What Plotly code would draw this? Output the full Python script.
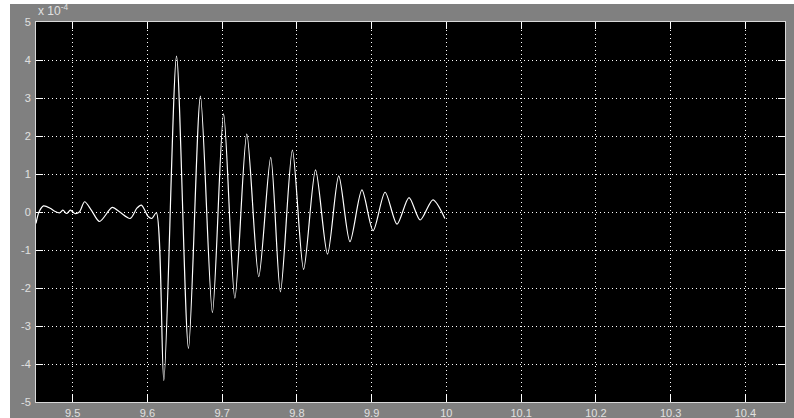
import plotly.graph_objects as go

# time (s) and signal (units of 1e-4)
t = [9.451, 9.455, 9.461, 9.470, 9.476, 9.483, 9.487, 9.492, 9.497, 9.503, 9.509,
     9.516, 9.525, 9.536, 9.553, 9.563, 9.577, 9.586, 9.592, 9.601, 9.606, 9.612,
     9.622, 9.639, 9.655, 9.671, 9.687, 9.702, 9.717, 9.733, 9.749, 9.765, 9.778,
     9.794, 9.809, 9.825, 9.841, 9.856, 9.871, 9.887, 9.902, 9.918, 9.934, 9.950,
     9.965, 9.982, 9.998]
signal = [-0.30, 0.00, 0.16, 0.10, 0.02, -0.02, 0.05, -0.04, 0.05, -0.04, 0.00,
          0.27, 0.05, -0.25, 0.12, 0.00, -0.17, 0.10, 0.18, -0.12, -0.17, -0.02,
          -4.44, 4.10, -3.59, 3.05, -2.65, 2.58, -2.27, 2.05, -1.70, 1.44, -2.10,
          1.63, -1.51, 1.11, -1.11, 0.95, -0.78, 0.58, -0.49, 0.52, -0.32, 0.38,
          -0.21, 0.32, -0.17]

x_ticks = [9.5, 9.6, 9.7, 9.8, 9.9, 10, 10.1, 10.2, 10.3, 10.4]
x_ticklabels = ["9.5", "9.6", "9.7", "9.8", "9.9", "10", "10.1", "10.2", "10.3", "10.4"]
y_ticks = [-5, -4, -3, -2, -1, 0, 1, 2, 3, 4, 5]
y_ticklabels = [str(v) for v in y_ticks]

W, H = 794, 418
L, R, T, B = 36, 9, 22, 16
pw, ph = W - L - R, H - T - B

def px(xp):
    return (xp - L) / pw

def py(yp):
    return (H - B - yp) / ph

fig = go.Figure()
fig.add_trace(go.Scatter(x=t, y=signal, mode="lines",
                         line=dict(color="white", width=1.2, shape="spline", smoothing=0.8),
                         hoverinfo="skip", showlegend=False))

font = dict(family="Liberation Sans, Arial, sans-serif", size=11, color="#e0e0e0")
axis_common = dict(showline=True, linecolor="#d8d8d8", linewidth=1, mirror="ticks",
                   ticks="inside", ticklen=7, tickcolor="#ffffff", tickwidth=1,
                   showgrid=True, gridcolor="#ffffff", gridwidth=1, griddash="1px,3px",
                   zeroline=False, tickfont=font, automargin=False)

fig.update_xaxes(range=[9.451, 10.453], tickvals=x_ticks, ticktext=x_ticklabels,
                 ticklabelstandoff=1, **axis_common)
fig.update_yaxes(range=[-5, 5], tickvals=y_ticks, ticktext=y_ticklabels,
                 ticklabelstandoff=2, **axis_common)

fig.update_layout(
    width=W, height=H,
    margin=dict(l=L, r=R, t=T, b=B, pad=0, autoexpand=False),
    paper_bgcolor="white",
    plot_bgcolor="rgba(0,0,0,0)",
    shapes=[
        dict(type="rect", xref="paper", yref="paper", layer="below",
             x0=px(10), x1=px(W + 2), y0=py(H + 2), y1=py(4),
             fillcolor="#808080", line=dict(width=0)),
        dict(type="rect", xref="paper", yref="paper", layer="below",
             x0=0, x1=1, y0=0, y1=1, fillcolor="black", line=dict(width=0)),
    ],
    annotations=[
        dict(text="x 10<sup>-4</sup>", xref="paper", yref="paper",
             x=px(36), y=py(20), xanchor="left", yanchor="bottom",
             showarrow=False, font=dict(family=font["family"], size=12, color=font["color"])),
    ],
)

fig.write_html("out.html")
